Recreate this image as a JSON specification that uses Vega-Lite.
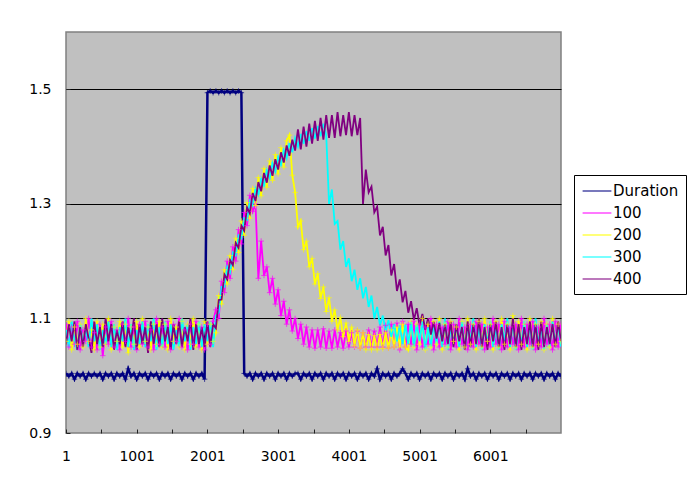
{
"$schema":"https://vega.github.io/schema/vega-lite/v6.json",
"width":495,"height":401,
"autosize":"none",
"padding":{"left":66,"top":32,"right":126,"bottom":48},
"background":"white",
"config":{"view":{"fill":"#C0C0C0","stroke":"#808080","strokeWidth":1.5},"font":"DejaVu Sans","axis":{"labelFont":"DejaVu Sans","labelFontSize":14,"labelColor":"black","domain":false,"tickColor":"#222222","title":null}},
"data":{"values":[
{"x":1,"D":1.004,"a":1.09,"b":1.06,"c":1.08,"e":1.055},
{"x":41,"D":0.999,"a":1.05,"b":1.095,"c":1.05,"e":1.09},
{"x":81,"D":1.004,"a":1.085,"b":1.045,"c":1.095,"e":1.06},
{"x":121,"D":0.994,"a":1.055,"b":1.085,"c":1.06,"e":1.095},
{"x":161,"D":1.004,"a":1.095,"b":1.055,"c":1.045,"e":1.045},
{"x":201,"D":0.999,"a":1.045,"b":1.09,"c":1.09,"e":1.085},
{"x":241,"D":1.004,"a":1.08,"b":1.05,"c":1.055,"e":1.05},
{"x":281,"D":0.994,"a":1.06,"b":1.1,"c":1.085,"e":1.09},
{"x":321,"D":1.004,"a":1.1,"b":1.06,"c":1.05,"e":1.065},
{"x":361,"D":0.999,"a":1.05,"b":1.08,"c":1.1,"e":1.04},
{"x":401,"D":1.004,"a":1.075,"b":1.045,"c":1.06,"e":1.095},
{"x":441,"D":0.999,"a":1.045,"b":1.095,"c":1.09,"e":1.055},
{"x":481,"D":1.004,"a":1.09,"b":1.05,"c":1.045,"e":1.085},
{"x":521,"D":0.994,"a":1.035,"b":1.09,"c":1.08,"e":1.05},
{"x":561,"D":1.004,"a":1.085,"b":1.055,"c":1.055,"e":1.1},
{"x":601,"D":0.999,"a":1.055,"b":1.1,"c":1.095,"e":1.06},
{"x":641,"D":1.004,"a":1.095,"b":1.045,"c":1.05,"e":1.09},
{"x":681,"D":0.994,"a":1.05,"b":1.085,"c":1.09,"e":1.045},
{"x":721,"D":1.004,"a":1.08,"b":1.06,"c":1.045,"e":1.08},
{"x":761,"D":0.999,"a":1.045,"b":1.095,"c":1.085,"e":1.055},
{"x":801,"D":1.004,"a":1.09,"b":1.05,"c":1.06,"e":1.095},
{"x":841,"D":0.994,"a":1.06,"b":1.09,"c":1.1,"e":1.05},
{"x":881,"D":1.012,"a":1.1,"b":1.04,"c":1.05,"e":1.085},
{"x":921,"D":0.999,"a":1.05,"b":1.085,"c":1.09,"e":1.06},
{"x":961,"D":1.004,"a":1.085,"b":1.055,"c":1.045,"e":1.1},
{"x":1001,"D":0.994,"a":1.045,"b":1.095,"c":1.08,"e":1.045},
{"x":1041,"D":1.004,"a":1.09,"b":1.05,"c":1.055,"e":1.09},
{"x":1081,"D":0.999,"a":1.055,"b":1.1,"c":1.095,"e":1.055},
{"x":1121,"D":1.004,"a":1.095,"b":1.06,"c":1.05,"e":1.085},
{"x":1161,"D":0.994,"a":1.05,"b":1.085,"c":1.09,"e":1.04},
{"x":1201,"D":1.004,"a":1.08,"b":1.045,"c":1.06,"e":1.095},
{"x":1241,"D":0.999,"a":1.045,"b":1.09,"c":1.1,"e":1.055},
{"x":1281,"D":1.004,"a":1.1,"b":1.055,"c":1.045,"e":1.09},
{"x":1321,"D":0.994,"a":1.055,"b":1.095,"c":1.085,"e":1.05},
{"x":1361,"D":1.004,"a":1.085,"b":1.05,"c":1.05,"e":1.1},
{"x":1401,"D":0.999,"a":1.05,"b":1.09,"c":1.095,"e":1.06},
{"x":1441,"D":1.004,"a":1.095,"b":1.045,"c":1.055,"e":1.085},
{"x":1481,"D":0.994,"a":1.045,"b":1.1,"c":1.09,"e":1.045},
{"x":1521,"D":1.004,"a":1.09,"b":1.06,"c":1.045,"e":1.09},
{"x":1561,"D":0.999,"a":1.06,"b":1.085,"c":1.08,"e":1.055},
{"x":1601,"D":1.004,"a":1.1,"b":1.05,"c":1.05,"e":1.095},
{"x":1641,"D":0.994,"a":1.05,"b":1.095,"c":1.1,"e":1.05},
{"x":1681,"D":1.004,"a":1.08,"b":1.045,"c":1.06,"e":1.085},
{"x":1721,"D":0.999,"a":1.045,"b":1.09,"c":1.09,"e":1.06},
{"x":1761,"D":1.004,"a":1.09,"b":1.055,"c":1.045,"e":1.1},
{"x":1801,"D":0.994,"a":1.055,"b":1.1,"c":1.085,"e":1.045},
{"x":1841,"D":1.004,"a":1.095,"b":1.05,"c":1.055,"e":1.09},
{"x":1881,"D":0.999,"a":1.05,"b":1.09,"c":1.095,"e":1.055},
{"x":1921,"D":1.004,"a":1.085,"b":1.045,"c":1.05,"e":1.085},
{"x":1961,"D":0.994,"a":1.045,"b":1.095,"c":1.09,"e":1.05},
{"x":2001,"D":1.494,"a":1.09,"b":1.055,"c":1.06,"e":1.095},
{"x":2041,"D":1.497,"a":1.055,"b":1.09,"c":1.095,"e":1.05},
{"x":2081,"D":1.494,"a":1.095,"b":1.06,"c":1.05,"e":1.09},
{"x":2121,"D":1.497,"a":1.115,"b":1.075,"c":1.105,"e":1.083},
{"x":2161,"D":1.494,"a":1.1,"b":1.14,"c":1.11,"e":1.132},
{"x":2201,"D":1.497,"a":1.165,"b":1.125,"c":1.155,"e":1.133},
{"x":2241,"D":1.494,"a":1.145,"b":1.185,"c":1.155,"e":1.177},
{"x":2281,"D":1.497,"a":1.2,"b":1.16,"c":1.19,"e":1.168},
{"x":2321,"D":1.494,"a":1.17,"b":1.21,"c":1.18,"e":1.202},
{"x":2361,"D":1.497,"a":1.225,"b":1.185,"c":1.215,"e":1.193},
{"x":2401,"D":1.494,"a":1.2,"b":1.24,"c":1.21,"e":1.232},
{"x":2441,"D":1.497,"a":1.255,"b":1.215,"c":1.245,"e":1.223},
{"x":2481,"D":1.494,"a":1.23,"b":1.27,"c":1.24,"e":1.262},
{"x":2521,"D":1.004,"a":1.285,"b":1.245,"c":1.275,"e":1.253},
{"x":2561,"D":0.999,"a":1.262,"b":1.302,"c":1.272,"e":1.294},
{"x":2601,"D":1.004,"a":1.315,"b":1.275,"c":1.305,"e":1.283},
{"x":2641,"D":0.994,"a":1.287,"b":1.327,"c":1.297,"e":1.319},
{"x":2681,"D":1.004,"a":1.3,"b":1.297,"c":1.327,"e":1.305},
{"x":2721,"D":0.999,"a":1.17,"b":1.346,"c":1.316,"e":1.338},
{"x":2761,"D":1.004,"a":1.235,"b":1.314,"c":1.344,"e":1.322},
{"x":2801,"D":0.994,"a":1.175,"b":1.362,"c":1.332,"e":1.354},
{"x":2841,"D":1.004,"a":1.19,"b":1.329,"c":1.359,"e":1.337},
{"x":2881,"D":0.999,"a":1.145,"b":1.375,"c":1.345,"e":1.367},
{"x":2921,"D":1.004,"a":1.17,"b":1.341,"c":1.371,"e":1.349},
{"x":2961,"D":0.994,"a":1.125,"b":1.386,"c":1.356,"e":1.378},
{"x":3001,"D":1.004,"a":1.15,"b":1.352,"c":1.382,"e":1.36},
{"x":3041,"D":0.999,"a":1.105,"b":1.398,"c":1.368,"e":1.39},
{"x":3081,"D":1.004,"a":1.13,"b":1.364,"c":1.394,"e":1.372},
{"x":3121,"D":0.994,"a":1.09,"b":1.41,"c":1.38,"e":1.402},
{"x":3161,"D":1.004,"a":1.115,"b":1.42,"c":1.406,"e":1.384},
{"x":3201,"D":0.999,"a":1.078,"b":1.35,"c":1.39,"e":1.412},
{"x":3241,"D":1.004,"a":1.1,"b":1.32,"c":1.415,"e":1.393},
{"x":3281,"D":1.004,"a":1.065,"b":1.26,"c":1.4,"e":1.43},
{"x":3321,"D":0.994,"a":1.09,"b":1.27,"c":1.422,"e":1.395},
{"x":3361,"D":1.004,"a":1.055,"b":1.22,"c":1.405,"e":1.435},
{"x":3401,"D":0.999,"a":1.085,"b":1.235,"c":1.427,"e":1.4},
{"x":3441,"D":1.004,"a":1.05,"b":1.19,"c":1.41,"e":1.44},
{"x":3481,"D":0.994,"a":1.08,"b":1.205,"c":1.432,"e":1.405},
{"x":3521,"D":1.004,"a":1.048,"b":1.16,"c":1.414,"e":1.445},
{"x":3561,"D":0.999,"a":1.08,"b":1.178,"c":1.436,"e":1.41},
{"x":3601,"D":1.004,"a":1.05,"b":1.135,"c":1.418,"e":1.45},
{"x":3641,"D":0.994,"a":1.082,"b":1.155,"c":1.44,"e":1.412},
{"x":3681,"D":1.004,"a":1.048,"b":1.112,"c":1.42,"e":1.455},
{"x":3721,"D":0.999,"a":1.078,"b":1.136,"c":1.3,"e":1.415},
{"x":3761,"D":1.004,"a":1.048,"b":1.095,"c":1.325,"e":1.455},
{"x":3801,"D":0.994,"a":1.08,"b":1.115,"c":1.265,"e":1.415},
{"x":3841,"D":1.004,"a":1.05,"b":1.08,"c":1.27,"e":1.46},
{"x":3881,"D":0.999,"a":1.075,"b":1.102,"c":1.22,"e":1.418},
{"x":3921,"D":1.004,"a":1.048,"b":1.068,"c":1.235,"e":1.455},
{"x":3961,"D":0.994,"a":1.078,"b":1.092,"c":1.19,"e":1.42},
{"x":4001,"D":1.004,"a":1.05,"b":1.06,"c":1.205,"e":1.46},
{"x":4041,"D":0.999,"a":1.075,"b":1.085,"c":1.165,"e":1.418},
{"x":4081,"D":1.004,"a":1.05,"b":1.052,"c":1.185,"e":1.455},
{"x":4121,"D":0.994,"a":1.078,"b":1.08,"c":1.15,"e":1.42},
{"x":4161,"D":1.004,"a":1.048,"b":1.048,"c":1.17,"e":1.45},
{"x":4201,"D":0.999,"a":1.075,"b":1.075,"c":1.135,"e":1.3},
{"x":4241,"D":1.004,"a":1.05,"b":1.045,"c":1.155,"e":1.36},
{"x":4281,"D":0.994,"a":1.08,"b":1.072,"c":1.12,"e":1.32},
{"x":4321,"D":1.004,"a":1.05,"b":1.045,"c":1.14,"e":1.33},
{"x":4361,"D":0.999,"a":1.078,"b":1.07,"c":1.1,"e":1.285},
{"x":4401,"D":1.012,"a":1.05,"b":1.045,"c":1.12,"e":1.295},
{"x":4441,"D":0.994,"a":1.085,"b":1.072,"c":1.088,"e":1.245},
{"x":4481,"D":1.004,"a":1.05,"b":1.047,"c":1.105,"e":1.26},
{"x":4521,"D":0.999,"a":1.088,"b":1.075,"c":1.078,"e":1.21},
{"x":4561,"D":1.004,"a":1.048,"b":1.048,"c":1.097,"e":1.228},
{"x":4601,"D":0.994,"a":1.09,"b":1.08,"c":1.068,"e":1.175},
{"x":4641,"D":1.004,"a":1.05,"b":1.05,"c":1.09,"e":1.195},
{"x":4681,"D":0.999,"a":1.092,"b":1.085,"c":1.06,"e":1.148},
{"x":4721,"D":1.004,"a":1.045,"b":1.05,"c":1.088,"e":1.168},
{"x":4761,"D":1.012,"a":1.095,"b":1.09,"c":1.055,"e":1.128},
{"x":4801,"D":1.004,"a":1.05,"b":1.05,"c":1.09,"e":1.148},
{"x":4841,"D":0.994,"a":1.09,"b":1.045,"c":1.055,"e":1.11},
{"x":4881,"D":1.004,"a":1.055,"b":1.095,"c":1.095,"e":1.13},
{"x":4921,"D":0.999,"a":1.095,"b":1.05,"c":1.05,"e":1.097},
{"x":4961,"D":1.004,"a":1.045,"b":1.09,"c":1.09,"e":1.118},
{"x":5001,"D":0.994,"a":1.09,"b":1.055,"c":1.06,"e":1.088},
{"x":5041,"D":1.004,"a":1.05,"b":1.1,"c":1.095,"e":1.108},
{"x":5081,"D":0.999,"a":1.085,"b":1.045,"c":1.045,"e":1.08},
{"x":5121,"D":1.004,"a":1.055,"b":1.09,"c":1.085,"e":1.1},
{"x":5161,"D":0.994,"a":1.1,"b":1.05,"c":1.05,"e":1.072},
{"x":5201,"D":1.004,"a":1.045,"b":1.095,"c":1.09,"e":1.095},
{"x":5241,"D":0.999,"a":1.09,"b":1.055,"c":1.055,"e":1.065},
{"x":5281,"D":1.004,"a":1.05,"b":1.1,"c":1.095,"e":1.092},
{"x":5321,"D":0.994,"a":1.085,"b":1.045,"c":1.05,"e":1.06},
{"x":5361,"D":1.004,"a":1.055,"b":1.09,"c":1.1,"e":1.09},
{"x":5401,"D":0.999,"a":1.095,"b":1.05,"c":1.045,"e":1.055},
{"x":5441,"D":1.004,"a":1.045,"b":1.095,"c":1.085,"e":1.095},
{"x":5481,"D":0.994,"a":1.09,"b":1.06,"c":1.055,"e":1.05},
{"x":5521,"D":1.004,"a":1.05,"b":1.085,"c":1.09,"e":1.09},
{"x":5561,"D":0.999,"a":1.1,"b":1.045,"c":1.05,"e":1.06},
{"x":5601,"D":1.004,"a":1.055,"b":1.095,"c":1.095,"e":1.085},
{"x":5641,"D":0.994,"a":1.085,"b":1.05,"c":1.045,"e":1.045},
{"x":5681,"D":1.012,"a":1.045,"b":1.1,"c":1.09,"e":1.095},
{"x":5721,"D":0.999,"a":1.09,"b":1.055,"c":1.06,"e":1.05},
{"x":5761,"D":1.004,"a":1.05,"b":1.09,"c":1.1,"e":1.09},
{"x":5801,"D":0.994,"a":1.095,"b":1.045,"c":1.05,"e":1.055},
{"x":5841,"D":1.004,"a":1.055,"b":1.095,"c":1.085,"e":1.1},
{"x":5881,"D":0.999,"a":1.09,"b":1.05,"c":1.045,"e":1.05},
{"x":5921,"D":1.004,"a":1.045,"b":1.1,"c":1.09,"e":1.085},
{"x":5961,"D":0.994,"a":1.085,"b":1.06,"c":1.055,"e":1.045},
{"x":6001,"D":1.004,"a":1.05,"b":1.09,"c":1.095,"e":1.09},
{"x":6041,"D":0.999,"a":1.1,"b":1.045,"c":1.05,"e":1.06},
{"x":6081,"D":1.004,"a":1.055,"b":1.095,"c":1.085,"e":1.095},
{"x":6121,"D":0.994,"a":1.09,"b":1.05,"c":1.045,"e":1.05},
{"x":6161,"D":1.004,"a":1.045,"b":1.1,"c":1.09,"e":1.085},
{"x":6201,"D":0.999,"a":1.095,"b":1.055,"c":1.06,"e":1.045},
{"x":6241,"D":1.004,"a":1.05,"b":1.09,"c":1.1,"e":1.09},
{"x":6281,"D":0.994,"a":1.085,"b":1.045,"c":1.05,"e":1.055},
{"x":6321,"D":1.004,"a":1.055,"b":1.105,"c":1.095,"e":1.1},
{"x":6361,"D":0.999,"a":1.09,"b":1.05,"c":1.045,"e":1.05},
{"x":6401,"D":1.004,"a":1.045,"b":1.095,"c":1.085,"e":1.09},
{"x":6441,"D":0.994,"a":1.1,"b":1.055,"c":1.055,"e":1.045},
{"x":6481,"D":1.004,"a":1.05,"b":1.09,"c":1.095,"e":1.085},
{"x":6521,"D":0.999,"a":1.09,"b":1.045,"c":1.05,"e":1.055},
{"x":6561,"D":1.004,"a":1.055,"b":1.1,"c":1.09,"e":1.095},
{"x":6601,"D":0.994,"a":1.095,"b":1.05,"c":1.045,"e":1.05},
{"x":6641,"D":1.004,"a":1.045,"b":1.09,"c":1.1,"e":1.09},
{"x":6681,"D":0.999,"a":1.085,"b":1.055,"c":1.055,"e":1.045},
{"x":6721,"D":1.004,"a":1.05,"b":1.095,"c":1.085,"e":1.095},
{"x":6761,"D":0.994,"a":1.1,"b":1.045,"c":1.045,"e":1.05},
{"x":6801,"D":1.004,"a":1.055,"b":1.09,"c":1.09,"e":1.085},
{"x":6841,"D":0.999,"a":1.09,"b":1.05,"c":1.05,"e":1.055},
{"x":6881,"D":1.004,"a":1.045,"b":1.1,"c":1.095,"e":1.09},
{"x":6921,"D":0.994,"a":1.095,"b":1.055,"c":1.055,"e":1.05},
{"x":6961,"D":1.004,"a":1.05,"b":1.09,"c":1.09,"e":1.095},
{"x":7001,"D":0.999,"a":1.09,"b":1.06,"c":1.05,"e":1.06}
]},
"transform":[{"fold":["D","a","b","c","e"],"as":["s","y"]}],
"encoding":{
 "x":{"field":"x","type":"quantitative","scale":{"domain":[1,7001],"nice":false,"zero":false},
  "axis":{"values":[1,501,1001,1501,2001,2501,3001,3501,4001,4501,5001,5501,6001,6501],"labelExpr":"(datum.value - 1) % 1000 == 0 ? format(datum.value, 'd') : ''","grid":false,"tickSize":-4,"labelPadding":20,"labelFlush":false,"labelOverlap":false}},
 "y":{"field":"y","type":"quantitative","scale":{"domain":[0.9,1.6],"nice":false,"zero":false},
  "axis":{"values":[0.9,1.1,1.3,1.5],"format":".1f","grid":true,"gridColor":{"condition":{"test":"datum.value < 1","value":"transparent"},"value":"black"},"gridWidth":1.2,"tickSize":-4,"labelPadding":19}},
 "color":{"field":"s","type":"nominal","scale":{"domain":["D","a","b","c","e"],"range":["#000080","#FF00FF","#FFFF00","#00FFFF","#800080"]},
  "legend":{"orient":"none","legendX":508,"legendY":143,"title":null,"fillColor":"white","strokeColor":"black","padding":7,"labelFont":"DejaVu Sans","labelFontSize":15,"labelColor":"black","symbolType":"M-1.8,0H1.8","symbolSize":256,"symbolOffset":7,"symbolStrokeWidth":1.5,"rowPadding":5,"labelOffset":7,"labelExpr":"{'D':'Duration','a':'100','b':'200','c':'300','e':'400'}[datum.label]"}}
},
"layer":[
 {"mark":{"type":"line","clip":true},"encoding":{"strokeWidth":{"condition":{"test":"datum.s == 'D'","value":2.5},"value":1.8}}},
 {"transform":[{"filter":"datum.s == 'D' || datum.s == 'a' || datum.s == 'b'"}],"mark":{"type":"point","shape":"M-1,0H1M0,-1V1","filled":false,"size":30,"strokeWidth":1,"clip":true}}
]
}
